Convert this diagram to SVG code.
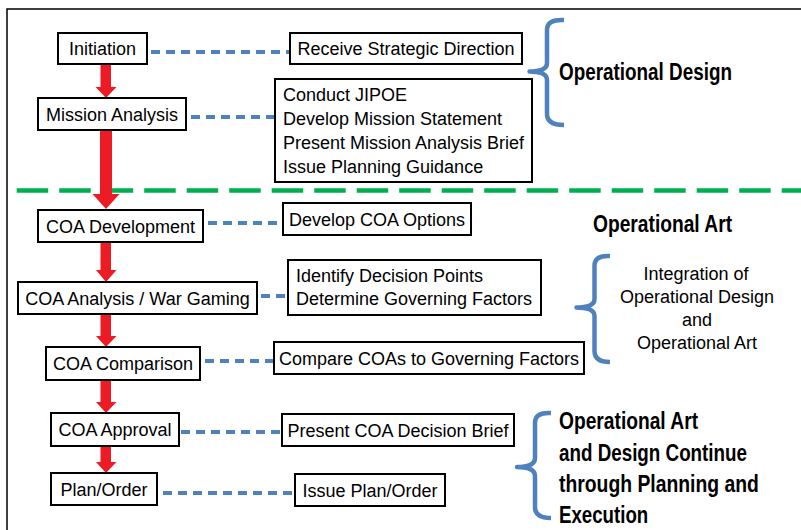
<svg xmlns="http://www.w3.org/2000/svg" width="801" height="530" viewBox="0 0 801 530">
<style>
.box{fill:#fff;stroke:#000;stroke-width:2}
.t{font-family:"Liberation Sans",Arial,sans-serif;font-size:18px;fill:#000}
.c{text-anchor:middle}
.b{font-family:"Liberation Sans Narrow","Liberation Sans",Arial,sans-serif;font-weight:bold;font-size:24px;fill:#000}
.dash{stroke:#4F81BD;stroke-width:4;stroke-dasharray:9 6;fill:none}
.brace{stroke:#4F81BD;stroke-width:4.5;fill:none;stroke-linejoin:round}
.arrow{fill:#ED1C24}
</style>
<rect x="7" y="9" width="800" height="530" fill="#fff" stroke="#000" stroke-width="1.5"/>
<line x1="16.7" y1="190.5" x2="801" y2="190.5" stroke="#00B050" stroke-width="4.5" stroke-dasharray="31.5 11"/>
<g id="connectors">
<line class="dash" x1="151" y1="52" x2="289" y2="52"/>
<line class="dash" x1="191" y1="117" x2="274" y2="117"/>
<line class="dash" x1="208" y1="223" x2="282" y2="223"/>
<line class="dash" x1="261" y1="296" x2="287" y2="296"/>
<line class="dash" x1="205" y1="361" x2="273" y2="361"/>
<line class="dash" x1="181" y1="432" x2="281" y2="432"/>
<line class="dash" x1="163" y1="493" x2="294" y2="493"/>
<path class="arrow" d="M100.5,64 H111 V87 H116.5 L106,98 L95.5,87 H100.5 Z"/>
<path class="arrow" d="M100,130 H112 V194 H119.5 L106,209 L92.5,194 H100 Z"/>
<path class="arrow" d="M100.5,242 H111 V270 H116.5 L106,282 L96,270 H100.5 Z"/>
<path class="arrow" d="M100.5,314 H111 V336 H116.5 L106,347 L96,336 H100.5 Z"/>
<path class="arrow" d="M100.5,380 H111 V402 H116.5 L106,413 L96,402 H100.5 Z"/>
<path class="arrow" d="M100.5,446 H111 V462 H116.5 L106,473 L96,462 H100.5 Z"/>
</g>
<g id="initiation"><rect class="box" x="58" y="33" width="89" height="31"/><text class="t c" x="102.5" y="55">Initiation</text></g>
<g id="receive"><rect class="box" x="290" y="33" width="232" height="31"/><text class="t c" x="406" y="55">Receive Strategic Direction</text></g>
<g id="mission-analysis"><rect class="box" x="38" y="98" width="148" height="32"/><text class="t c" x="112" y="120.5">Mission Analysis</text></g>
<g id="mission-tasks"><rect class="box" x="275" y="79" width="257" height="103"/>
<text class="t" x="283" y="101">Conduct JIPOE</text>
<text class="t" x="283" y="125">Develop Mission Statement</text>
<text class="t" x="283" y="149">Present Mission Analysis Brief</text>
<text class="t" x="283" y="172.5">Issue Planning Guidance</text></g>
<g id="op-design"><path class="brace" d="M564,20 Q547,19 547,30 V63 Q547,71.5 529.5,71.5 Q547,71.5 547,80 V114 Q547,125 564,125"/>
<text class="b" transform="translate(559,80) scale(0.79,1)" x="0" y="0" textLength="219" lengthAdjust="spacingAndGlyphs">Operational Design</text></g>
<g id="coa-development"><rect class="box" x="38" y="210" width="165" height="32"/><text class="t c" x="120.5" y="232.5">COA Development</text></g>
<g id="develop-options"><rect class="box" x="283" y="203" width="188" height="32"/><text class="t c" x="377" y="225.5">Develop COA Options</text></g>
<g id="op-art"><text class="b" transform="translate(593,232) scale(0.79,1)" x="0" y="0" textLength="176" lengthAdjust="spacingAndGlyphs">Operational Art</text></g>
<g id="coa-analysis"><rect class="box" x="18" y="282" width="239" height="32"/><text class="t c" x="137.5" y="304.5">COA Analysis / War Gaming</text></g>
<g id="identify"><rect class="box" x="288" y="260" width="253" height="55"/>
<text class="t" x="296" y="282">Identify Decision Points</text>
<text class="t" x="296" y="305">Determine Governing Factors</text></g>
<g id="integration"><path class="brace" d="M610,256 Q594.5,255 594.5,266 V299 Q594.5,307.5 576.5,307.5 Q594.5,307.5 594.5,316 V351 Q594.5,362 610,362"/>
<text class="t c" x="696" y="279.5">Integration of</text>
<text class="t c" x="697" y="302.5">Operational Design</text>
<text class="t c" x="697" y="326">and</text>
<text class="t c" x="697" y="349">Operational Art</text></g>
<g id="coa-comparison"><rect class="box" x="46" y="347" width="154" height="33"/><text class="t c" x="123" y="370">COA Comparison</text></g>
<g id="compare"><rect class="box" x="274" y="342" width="310" height="32"/><text class="t c" x="429" y="364.5">Compare COAs to Governing Factors</text></g>
<g id="coa-approval"><rect class="box" x="51" y="413" width="128" height="33"/><text class="t c" x="115" y="436">COA Approval</text></g>
<g id="decision-brief"><rect class="box" x="282" y="414" width="232" height="32"/><text class="t c" x="398" y="436.5">Present COA Decision Brief</text></g>
<g id="plan-order"><rect class="box" x="51" y="473" width="106" height="32"/><text class="t c" x="104" y="495.5">Plan/Order</text></g>
<g id="issue-plan"><rect class="box" x="295" y="474" width="150" height="32"/><text class="t c" x="370" y="496.5">Issue Plan/Order</text></g>
<g id="continue"><path class="brace" d="M551,413 Q535,412 535,423 V458 Q535,467 517,467 Q535,467 535,476 V507 Q535,518 551,518"/>
<text class="b" transform="translate(559,429) scale(0.79,1)" x="0" y="0" textLength="176" lengthAdjust="spacingAndGlyphs">Operational Art</text>
<text class="b" transform="translate(559,460.5) scale(0.79,1)" x="0" y="0" textLength="238" lengthAdjust="spacingAndGlyphs">and Design Continue</text>
<text class="b" transform="translate(559,491.5) scale(0.79,1)" x="0" y="0" textLength="253" lengthAdjust="spacingAndGlyphs">through Planning and</text>
<text class="b" transform="translate(559,522.5) scale(0.79,1)" x="0" y="0" textLength="113" lengthAdjust="spacingAndGlyphs">Execution</text></g>
</svg>
